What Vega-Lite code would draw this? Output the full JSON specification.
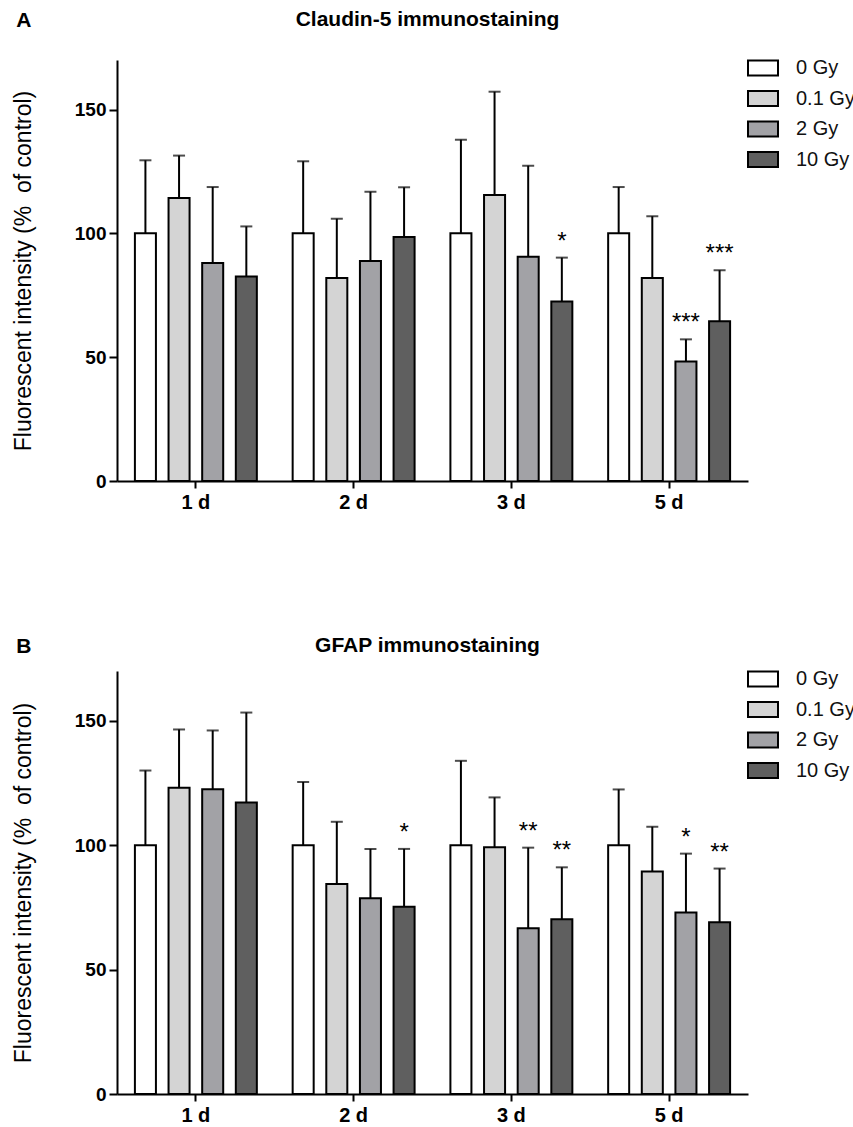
{
  "$schema": "https://vega.github.io/schema/vega-lite/v6.json",
  "padding": {"left": 12, "top": 9, "right": 0, "bottom": 0},
  "datasets": {
    "claudin": [
      {"day": "1 d", "dose": "0 Gy", "mean": 100, "upper": 129.5, "sig": ""},
      {"day": "1 d", "dose": "0.1 Gy", "mean": 114.3, "upper": 131.4, "sig": ""},
      {"day": "1 d", "dose": "2 Gy", "mean": 88.0, "upper": 118.7, "sig": ""},
      {"day": "1 d", "dose": "10 Gy", "mean": 82.6, "upper": 102.8, "sig": ""},
      {"day": "2 d", "dose": "0 Gy", "mean": 100, "upper": 129.1, "sig": ""},
      {"day": "2 d", "dose": "0.1 Gy", "mean": 82.0, "upper": 105.9, "sig": ""},
      {"day": "2 d", "dose": "2 Gy", "mean": 88.8, "upper": 116.8, "sig": ""},
      {"day": "2 d", "dose": "10 Gy", "mean": 98.5, "upper": 118.6, "sig": ""},
      {"day": "3 d", "dose": "0 Gy", "mean": 100, "upper": 137.8, "sig": ""},
      {"day": "3 d", "dose": "0.1 Gy", "mean": 115.5, "upper": 157.2, "sig": ""},
      {"day": "3 d", "dose": "2 Gy", "mean": 90.6, "upper": 127.3, "sig": ""},
      {"day": "3 d", "dose": "10 Gy", "mean": 72.5, "upper": 90.2, "sig": "*"},
      {"day": "5 d", "dose": "0 Gy", "mean": 100, "upper": 118.7, "sig": ""},
      {"day": "5 d", "dose": "0.1 Gy", "mean": 82.0, "upper": 106.9, "sig": ""},
      {"day": "5 d", "dose": "2 Gy", "mean": 48.3, "upper": 57.2, "sig": "***"},
      {"day": "5 d", "dose": "10 Gy", "mean": 64.5, "upper": 85.1, "sig": "***"}
    ],
    "gfap": [
      {"day": "1 d", "dose": "0 Gy", "mean": 100, "upper": 130.0, "sig": ""},
      {"day": "1 d", "dose": "0.1 Gy", "mean": 123.1, "upper": 146.5, "sig": ""},
      {"day": "1 d", "dose": "2 Gy", "mean": 122.5, "upper": 146.1, "sig": ""},
      {"day": "1 d", "dose": "10 Gy", "mean": 117.2, "upper": 153.3, "sig": ""},
      {"day": "2 d", "dose": "0 Gy", "mean": 100, "upper": 125.4, "sig": ""},
      {"day": "2 d", "dose": "0.1 Gy", "mean": 84.4, "upper": 109.4, "sig": ""},
      {"day": "2 d", "dose": "2 Gy", "mean": 78.7, "upper": 98.5, "sig": ""},
      {"day": "2 d", "dose": "10 Gy", "mean": 75.3, "upper": 98.5, "sig": "*"},
      {"day": "3 d", "dose": "0 Gy", "mean": 100, "upper": 133.9, "sig": ""},
      {"day": "3 d", "dose": "0.1 Gy", "mean": 99.2, "upper": 119.2, "sig": ""},
      {"day": "3 d", "dose": "2 Gy", "mean": 66.6, "upper": 99.0, "sig": "**"},
      {"day": "3 d", "dose": "10 Gy", "mean": 70.2, "upper": 91.1, "sig": "**"},
      {"day": "5 d", "dose": "0 Gy", "mean": 100, "upper": 122.4, "sig": ""},
      {"day": "5 d", "dose": "0.1 Gy", "mean": 89.4, "upper": 107.4, "sig": ""},
      {"day": "5 d", "dose": "2 Gy", "mean": 72.9, "upper": 96.6, "sig": "*"},
      {"day": "5 d", "dose": "10 Gy", "mean": 69.0, "upper": 90.6, "sig": "**"}
    ]
  },
  "config": {
    "font": "Liberation Sans",
    "view": {"stroke": null},
    "axis": {"grid": false, "domainColor": "black", "domainWidth": 2, "tickColor": "black", "tickWidth": 2, "labelColor": "black", "titleColor": "black", "labelFont": "Liberation Sans", "titleFont": "Liberation Sans"},
    "axisX": {"title": null, "labelAngle": 0, "labelFontWeight": "bold", "labelFontSize": 20, "tickSize": 7, "labelPadding": 4},
    "axisY": {"labelFontWeight": "bold", "labelFontSize": 19, "tickSize": 8, "labelPadding": 3, "titleFontSize": 23, "titleFontWeight": "normal", "titlePadding": 39},
    "legend": {"orient": "none", "legendX": 630, "legendY": -8, "padding": 0, "title": null, "symbolType": "M-1,-0.5H1V0.5H-1Z", "symbolSize": 900, "symbolStrokeColor": "black", "symbolStrokeWidth": 2, "labelFontSize": 20, "labelFont": "Liberation Sans", "labelColor": "#111", "labelOffset": 17, "rowPadding": 2.5},
    "title": {"font": "Liberation Sans", "fontWeight": "bold", "color": "black"}
  },
  "resolve": {"scale": {"fill": "independent"}, "legend": {"fill": "independent"}},
  "spacing": 123,
  "vconcat": [
    {
      "title": {"text": "A", "anchor": "start", "frame": "bounds", "fontSize": 21, "offset": -22, "dx": 4},
      "resolve": {"scale": {"fill": "independent"}, "legend": {"fill": "independent"}},
      "vconcat": [
        {
          "title": {"text": "Claudin-5 immunostaining", "fontSize": 21, "anchor": "middle", "frame": "group", "offset": 22, "dx": -5},
          "width": 631,
          "height": 421,
          "data": {"name": "claudin"},
          "encoding": {
            "x": {"field": "day", "type": "nominal", "sort": ["1 d", "2 d", "3 d", "5 d"], "scale": {"paddingInner": 0.227, "paddingOuter": 0.1135}},
            "xOffset": {"field": "dose", "type": "nominal", "sort": ["0 Gy", "0.1 Gy", "2 Gy", "10 Gy"], "scale": {"paddingInner": 0.375, "paddingOuter": 0}}
          },
          "layer": [
            {
              "mark": {"type": "bar", "stroke": "black", "strokeWidth": 2},
              "encoding": {
                "y": {"field": "mean", "type": "quantitative", "scale": {"domain": [0, 170], "nice": false}, "axis": {"values": [0, 50, 100, 150], "title": "Fluorescent intensity (%\u00a0 of control)"}},
                "fill": {"field": "dose", "type": "nominal", "scale": {"domain": ["0 Gy", "0.1 Gy", "2 Gy", "10 Gy"], "range": ["#ffffff", "#d4d4d4", "#a2a2a6", "#5f5f5f"]}}
              }
            },
            {
              "mark": {"type": "rule", "color": "black", "strokeWidth": 2},
              "encoding": {"y": {"field": "mean", "type": "quantitative"}, "y2": {"field": "upper"}}
            },
            {
              "mark": {"type": "tick", "color": "black", "size": 12, "thickness": 2, "orient": "horizontal"},
              "encoding": {"y": {"field": "upper", "type": "quantitative"}}
            },
            {
              "transform": [{"filter": "datum.sig != ''"}],
              "mark": {"type": "text", "fontSize": 24, "baseline": "alphabetic", "dy": -9, "color": "black"},
              "encoding": {"y": {"field": "upper", "type": "quantitative"}, "text": {"field": "sig"}}
            }
          ]
        }
      ]
    },
    {
      "title": {"text": "B", "anchor": "start", "frame": "bounds", "fontSize": 21, "offset": -22, "dx": 4},
      "resolve": {"scale": {"fill": "independent"}, "legend": {"fill": "independent"}},
      "vconcat": [
        {
          "title": {"text": "GFAP immunostaining", "fontSize": 21, "anchor": "middle", "frame": "group", "offset": 7, "dx": -5},
          "width": 631,
          "height": 423,
          "data": {"name": "gfap"},
          "encoding": {
            "x": {"field": "day", "type": "nominal", "sort": ["1 d", "2 d", "3 d", "5 d"], "scale": {"paddingInner": 0.227, "paddingOuter": 0.1135}},
            "xOffset": {"field": "dose", "type": "nominal", "sort": ["0 Gy", "0.1 Gy", "2 Gy", "10 Gy"], "scale": {"paddingInner": 0.375, "paddingOuter": 0}}
          },
          "layer": [
            {
              "mark": {"type": "bar", "stroke": "black", "strokeWidth": 2},
              "encoding": {
                "y": {"field": "mean", "type": "quantitative", "scale": {"domain": [0, 170], "nice": false}, "axis": {"values": [0, 50, 100, 150], "title": "Fluorescent intensity (%\u00a0 of control)"}},
                "fill": {"field": "dose", "type": "nominal", "scale": {"domain": ["0 Gy", "0.1 Gy", "2 Gy", "10 Gy"], "range": ["#ffffff", "#d4d4d4", "#a2a2a6", "#5f5f5f"]}}
              }
            },
            {
              "mark": {"type": "rule", "color": "black", "strokeWidth": 2},
              "encoding": {"y": {"field": "mean", "type": "quantitative"}, "y2": {"field": "upper"}}
            },
            {
              "mark": {"type": "tick", "color": "black", "size": 12, "thickness": 2, "orient": "horizontal"},
              "encoding": {"y": {"field": "upper", "type": "quantitative"}}
            },
            {
              "transform": [{"filter": "datum.sig != ''"}],
              "mark": {"type": "text", "fontSize": 24, "baseline": "alphabetic", "dy": -9, "color": "black"},
              "encoding": {"y": {"field": "upper", "type": "quantitative"}, "text": {"field": "sig"}}
            }
          ]
        }
      ]
    }
  ]
}
